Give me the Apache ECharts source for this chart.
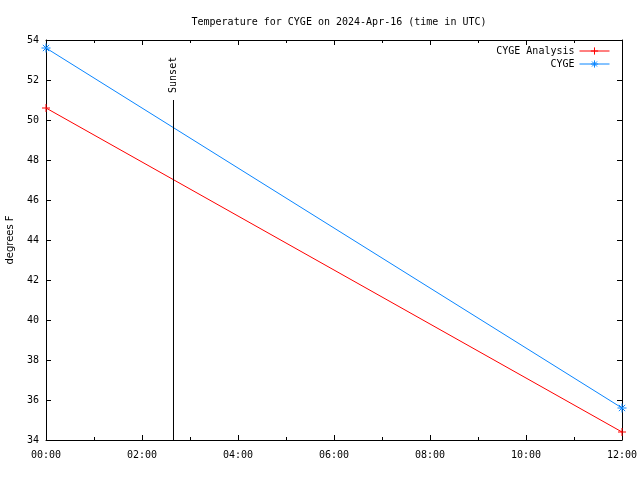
<!DOCTYPE html>
<html>
<head>
<meta charset="utf-8">
<script src="https://cdn.jsdelivr.net/npm/echarts@6/dist/echarts.min.js"></script>
<style>html,body{margin:0;padding:0;background:#fff}#c{width:640px;height:480px}</style>
</head>
<body>
<div id="c"></div>
<script>
const titleText = 'Temperature for CYGE on 2024-Apr-16 (time in UTC)';
const hours = [0, 12];
const analysisValues = [50.6, 34.4];
const obsValues = [53.6, 35.6];
const sunsetHour = 2.656;
const sunsetRange = [34, 51];
const seriesNames = ['CYGE Analysis', 'CYGE'];
const yAxisName = 'degrees F';

const mono = 'DejaVu Sans Mono';
const plusPath = 'path://M0,5L10,5M5,0L5,10';
const starPath = 'path://M0,5L10,5M5,0L5,10M1.5,1.5L8.5,8.5M1.5,8.5L8.5,1.5';
const red = '#ff0000', blue = '#0a86ff';

const chart = echarts.init(document.getElementById('c'), null, {renderer: 'canvas'});
const fmt = v => String(v).padStart(2, '0') + ':00';
const axisBase = {
  axisLine: {show: true, onZero: false, lineStyle: {color: '#000', width: 1}},
  splitLine: {show: false}
};
const legendBase = {right: 30, align: 'right', orient: 'horizontal', padding: 0, itemWidth: 30, itemHeight: 9,
  lineStyle: {width: 1}, itemStyle: {borderWidth: 1},
  textStyle: {fontFamily: mono, fontSize: 10, color: '#000'}};
chart.setOption({
  animation: false,
  backgroundColor: '#fff',
  title: {text: titleText, left: 334, textAlign: 'center', top: 12,
    textStyle: {fontFamily: mono, fontSize: 10, fontWeight: 'normal', color: '#000'}},
  grid: {left: 46, right: 18, top: 40, bottom: 40, containLabel: false, outerBoundsMode: 'none'},
  legend: [
    Object.assign({data: [seriesNames[0]], top: 46}, legendBase),
    Object.assign({data: [seriesNames[1]], top: 59}, legendBase)
  ],
  xAxis: [
    Object.assign({type: 'value', min: 0, max: 12, interval: 2, position: 'bottom',
      axisTick: {show: true, inside: true, length: 5, lineStyle: {color: '#000'}},
      minorTick: {show: true, splitNumber: 2, length: 3, lineStyle: {color: '#000'}},
      axisLabel: {formatter: fmt, fontFamily: mono, fontSize: 10, color: '#000', margin: 10}}, axisBase),
    Object.assign({type: 'value', min: 0, max: 12, interval: 2, position: 'top',
      axisTick: {show: true, inside: true, length: 5, lineStyle: {color: '#000'}},
      minorTick: {show: true, splitNumber: 2, length: 3, lineStyle: {color: '#000'}},
      axisLabel: {show: false}}, axisBase)
  ],
  yAxis: [
    Object.assign({type: 'value', min: 34, max: 54, interval: 2, position: 'left',
      name: yAxisName, nameLocation: 'middle', nameGap: 31,
      nameTextStyle: {fontFamily: 'DejaVu Sans', fontSize: 10, color: '#000'},
      axisTick: {show: true, inside: true, length: 5, lineStyle: {color: '#000'}},
      axisLabel: {fontFamily: mono, fontSize: 10, color: '#000', margin: 7}}, axisBase),
    Object.assign({type: 'value', min: 34, max: 54, interval: 2, position: 'right',
      axisTick: {show: true, inside: true, length: 5, lineStyle: {color: '#000'}},
      axisLabel: {show: false}}, axisBase)
  ],
  series: [
    {name: seriesNames[0], type: 'line', data: hours.map((h, i) => [h, analysisValues[i]]),
      symbol: plusPath, symbolSize: 8, clip: false, z: 3,
      lineStyle: {color: red, width: 1},
      itemStyle: {color: red, borderColor: red, borderWidth: 1}},
    {name: seriesNames[1], type: 'line', data: hours.map((h, i) => [h, obsValues[i]]),
      symbol: starPath, symbolSize: 9, clip: false, z: 3,
      lineStyle: {color: blue, width: 1},
      itemStyle: {color: blue, borderColor: blue, borderWidth: 1}},
    {name: 'Sunset', type: 'line', symbol: 'circle', symbolSize: 0.1, showSymbol: true,
      lineStyle: {color: '#000', width: 1}, itemStyle: {color: '#000'},
      data: [
        [sunsetHour, sunsetRange[0]],
        {value: [sunsetHour, sunsetRange[1]], label: {show: true, formatter: 'Sunset', position: 'top',
          distance: 7, rotate: 90, align: 'left', verticalAlign: 'middle',
          fontFamily: mono, fontSize: 10, color: '#000'}}
      ]}
  ]
});
</script>
</body>
</html>
